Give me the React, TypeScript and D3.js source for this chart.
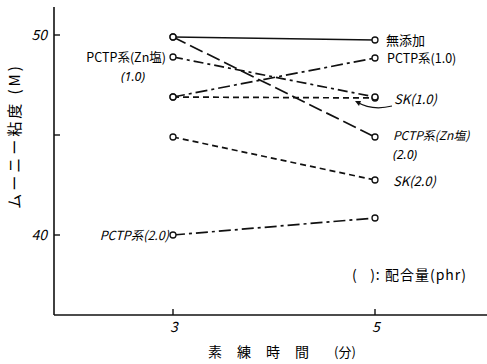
import * as d3 from 'd3';
import React from 'react';

// kneading time (min) and Mooney viscosity readings
const times = [3, 5];
const seriesNames = ['無添加', 'PCTP系(1.0)', 'SK(1.0)', 'PCTP系(Zn塩)(1.0)', 'PCTP系(Zn塩)(2.0)', 'SK(2.0)', 'PCTP系(2.0)'];
const mooneyAt3 = [49.9, 46.9, 46.9, 48.9, 49.9, 44.9, 40.0];
const mooneyAt5 = [49.75, 48.85, 46.85, 46.9, 44.9, 42.75, 40.85];
const yTicks = [40, 45, 50];
const yTickLabels = ['40', '', '50'];
const xTicks = [3, 5];

const dashStyles = ['none', '12,4,3,4', '6,4', '10,4,3,4', '14,5', '6,4', '12,4,3,4'];

const W = 487, H = 364;
const jp = '"Noto Sans CJK JP", "DejaVu Sans", sans-serif';
const latin = '"Noto Sans", "DejaVu Sans", sans-serif';

export default function App() {
    const x = d3.scaleLinear().domain([3, 5]).range([173, 375]);
    const y = d3.scaleLinear().domain([40, 50]).range([235, 35]);
    const left = 54, bottom = 315, top = 7;

    const line = d3.line<[number, number]>().x(d => x(d[0])).y(d => y(d[1]));

    return (
        <svg width={W} height={H} style={{ position: 'absolute', left: 0, top: 0, background: '#fff' }}
             fontFamily={jp}>
            <rect width={W} height={H} fill="#fff" />
            {/* axes */}
            <line x1={left} x2={left} y1={top} y2={bottom} stroke="#111" strokeWidth={1.6} />
            <line x1={left} x2={W} y1={bottom} y2={bottom} stroke="#111" strokeWidth={1.6} />
            {yTicks.map((t, i) => (
                <g key={t}>
                    <line x1={left} x2={left + 6} y1={y(t)} y2={y(t)} stroke="#111" strokeWidth={1.4} />
                    <text x={47} y={y(t) + 5} textAnchor="end" fontSize={14} fontStyle="italic">{yTickLabels[i]}</text>
                </g>
            ))}
            {xTicks.map(t => (
                <g key={t}>
                    <line x1={x(t)} x2={x(t)} y1={bottom} y2={bottom - 6} stroke="#111" strokeWidth={1.4} />
                    <text x={x(t) + 1} y={bottom + 17} textAnchor="middle" fontSize={14} fontStyle="italic">{t}</text>
                </g>
            ))}
            <text transform={`translate(20,136) rotate(-90)`} textAnchor="middle" fontSize={15} letterSpacing={3}>ムーニー粘度 (M)</text>
            <text x={208} y={357} fontSize={14} letterSpacing={15}>素練時間</text>
            <text x={334} y={357} fontSize={13}>(分)</text>
            <text x={352} y={280} fontSize={14} letterSpacing={1} style={{ whiteSpace: 'pre' }}>{'(\u00a0\u00a0\u00a0): 配合量(phr)'}</text>

            {/* series */}
            {seriesNames.map((name, i) => {
                const pts: [number, number][] = [[times[0], mooneyAt3[i]], [times[1], mooneyAt5[i]]];
                return (
                    <g key={name}>
                        <path d={line(pts) || ''} fill="none" stroke="#111" strokeWidth={1.7}
                              strokeDasharray={dashStyles[i]} />
                        {pts.map((p, j) => (
                            <circle key={j} cx={x(p[0])} cy={y(p[1])} r={3} fill="#fff" stroke="#111" strokeWidth={1.3} />
                        ))}
                    </g>
                );
            })}

            {/* left annotations */}
            <text x={x(3) - 7} y={y(mooneyAt3[3]) + 5} textAnchor="end" fontSize={12.5}>PCTP系(Zn塩)</text>
            <text x={133} y={y(mooneyAt3[3]) + 24} textAnchor="middle" fontSize={12.5} fontStyle="italic" fontFamily={latin}>(1.0)</text>
            <text x={x(5) + 11} y={y(mooneyAt5[0]) + 5} fontSize={13}>無添加</text>
            <text x={x(3) - 4} y={y(mooneyAt3[6]) + 5} textAnchor="end" fontSize={12.5} fontStyle="italic">PCTP系(2.0)</text>

            {/* right annotations */}
            <text x={x(5) + 12} y={y(mooneyAt5[1]) + 5} fontSize={12.5}>PCTP系(1.0)</text>
            <text x={x(5) + 19} y={y(mooneyAt5[2]) + 6} fontSize={13} fontStyle="italic">SK(1.0)</text>
            <path d="M392,106 Q372,111 357,102" fill="none" stroke="#111" strokeWidth={1.2} />
            <path d="M355,101 l6,0 l-2,5 z" fill="#111" />
            <text x={x(5) + 18} y={y(mooneyAt5[4]) + 3} fontSize={12} fontStyle="italic">PCTP系(Zn塩)</text>
            <text x={x(5) + 18} y={y(mooneyAt5[4]) + 22} fontSize={12.5} fontStyle="italic" fontFamily={latin}>(2.0)</text>
            <text x={x(5) + 18} y={y(mooneyAt5[5]) + 6} fontSize={13} fontStyle="italic">SK(2.0)</text>
        </svg>
    );
}
